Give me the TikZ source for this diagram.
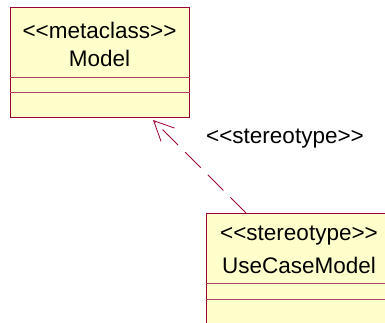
\documentclass[tikz,border=0pt]{standalone}
\usepackage{fontspec}
\newfontfamily\umlfont{Liberation Sans}
\usetikzlibrary{arrows.meta}
\definecolor{class edge}{RGB}{153,0,51}
\definecolor{class area}{RGB}{255,255,204}
\tikzset{classbox/.style={fill=class area, draw=class edge, line width=1pt, inner sep=0pt, anchor=north west},
    compart/.style={draw=class edge!75, line width=0.7pt},
    umltext/.style={font=\umlfont\fontsize{22.5}{26}\selectfont, inner sep=0pt},
    dep/.style={draw=class edge, line width=0.8pt, dash pattern=on 22pt off 10pt,
        -{Straight Barb[length=20pt,width=19pt]}}}

\begin{document}
\begin{tikzpicture}[x=1pt, y=-1pt]
    \useasboundingbox (0,0) rectangle (385,322);
    % metaclass
    \node[classbox, minimum width=179pt, minimum height=110pt] (model) at (10,7) {};
    \draw[compart] ([yshift=-70pt]model.north west) -- ([yshift=-70pt]model.north east)
                   ([yshift=-85pt]model.north west) -- ([yshift=-85pt]model.north east);
    \node[umltext] (modelst) at (99.5,30) {<<metaclass>>};
    \node[umltext] (modelname) at (99.5,58) {Model};
    % stereotype
    \node[classbox, minimum width=186pt, minimum height=130pt] (ucm) at (206,213) {};
    \draw[compart] ([yshift=-70pt]ucm.north west) -- ([yshift=-70pt]ucm.north east)
                   ([yshift=-86pt]ucm.north west) -- ([yshift=-86pt]ucm.north east);
    \node[umltext] (ucmst) at (299,236) {<<stereotype>>};
    \node[umltext] (ucmname) at (299,265) {UseCaseModel};
    % dependency
    \draw[dep] ([xshift=40pt]ucm.north west) -- ([xshift=143pt, yshift=-2pt]model.south west);
    \node[umltext] (deplabel) at (285,139) {<<stereotype>>};
\end{tikzpicture}
\end{document}
